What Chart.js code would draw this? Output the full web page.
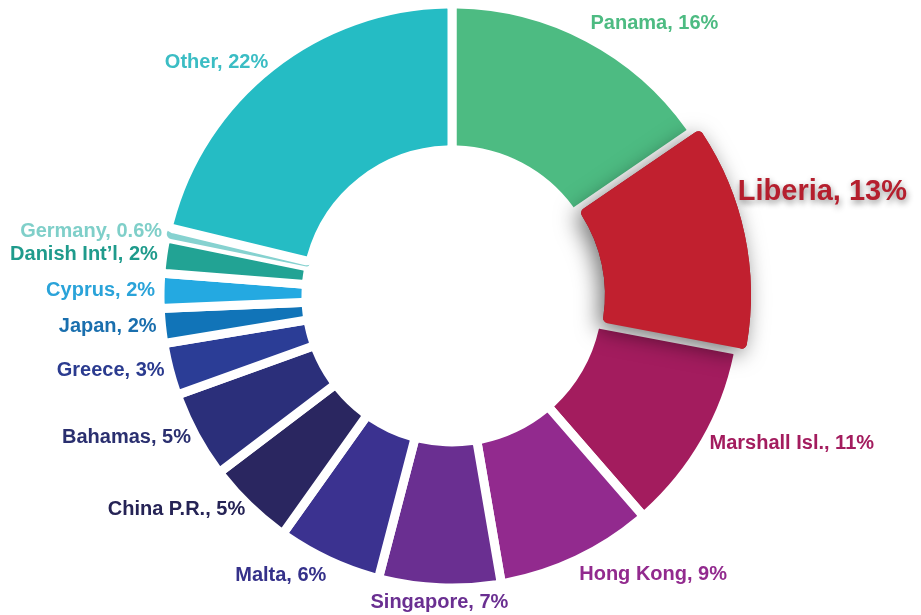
<!DOCTYPE html>
<html>
<head>
<meta charset="utf-8">
<script src="https://cdn.jsdelivr.net/npm/chart.js@4"></script>
<style>
  html, body { margin: 0; padding: 0; background: #ffffff; }
  #wrap { width: 921px; height: 615px; position: relative; }
</style>
</head>
<body>
<div id="wrap"><canvas id="chart-flags"></canvas></div>
<script>
// Data bendera kapal (label dan persentase)
const flags = ['Panama', 'Liberia', 'Marshall Isl.', 'Hong Kong', 'Singapore', 'Malta',
    'China P.R.', 'Bahamas', 'Greece', 'Japan', 'Cyprus', "Danish Int\u2019l", 'Germany', 'Other'];
const shares = [16, 13, 11, 9, 7, 6, 5, 5, 3, 2, 2, 2, 0.6, 22];
const sliceColors = ['#4dbb82', '#c1202f', '#a31c5e', '#922a8e', '#6a2f91', '#3b3290',
    '#2a2660', '#2b2f7a', '#2b3d96', '#1174b8', '#24a9e1', '#22a394', '#86d2d0', '#25bcc4'];
const labelColors = ['#4dbb82', '#b51f2e', '#a31c5e', '#922a8e', '#6a2f91', '#35318a',
    '#252355', '#2a2f6f', '#2b3b8f', '#1a6fae', '#2aa3d9', '#1f9b8c', '#7fcfc9', '#3bbdc4'];
const highlight = 1; // Liberia
const thin = 12;     // Germany

// Plugin: bayangan untuk potongan yang ditonjolkan
const shadowPlugin = {
    id: 'shadowPlugin',
    afterDatasetsDraw(chart) {
        const arc = chart.getDatasetMeta(0).data[highlight];
        const ctx = chart.ctx;
        ctx.save();
        ctx.shadowColor = 'rgba(0,0,0,0.55)';
        ctx.shadowBlur = 22;
        ctx.shadowOffsetX = -5;
        ctx.shadowOffsetY = 5;
        arc.draw(ctx);
        ctx.restore();
    }
};

// Plugin: label di luar potongan
const outLabels = {
    id: 'outLabels',
    afterDraw(chart) {
        const ctx = chart.ctx;
        const meta = chart.getDatasetMeta(0);
        meta.data.forEach((arc, i) => {
            const p = arc.getProps(['x', 'y', 'startAngle', 'endAngle', 'outerRadius'], true);
            const big = i === highlight;
            const frac = big ? 0.32 : 0.5;
            const a = p.startAngle + (p.endAngle - p.startAngle) * frac;
            const r = p.outerRadius + (big ? 12 : 5);
            const x = p.x + Math.cos(a) * r;
            const y = p.y + Math.sin(a) * r;
            const c = Math.cos(a);
            ctx.save();
            ctx.font = 'bold ' + (big ? 29 : 20) + 'px "Liberation Sans", Arial, sans-serif';
            ctx.fillStyle = labelColors[i];
            ctx.textAlign = c > 0.15 ? 'left' : (c < -0.15 ? 'right' : 'center');
            ctx.textBaseline = Math.sin(a) > 0.85 ? 'top' : (Math.sin(a) < -0.85 ? 'bottom' : 'middle');
            if (big) {
                ctx.shadowColor = 'rgba(0,0,0,0.45)';
                ctx.shadowBlur = 6;
                ctx.shadowOffsetX = 1;
                ctx.shadowOffsetY = 3;
            }
            ctx.fillText(flags[i] + ', ' + shares[i] + '%', x, y);
            ctx.restore();
        });
    }
};

function initializeChart() {
    new Chart(document.getElementById('chart-flags'), {
        type: 'doughnut',
        data: {
            labels: flags,
            datasets: [{
                data: shares,
                backgroundColor: sliceColors,
                borderColor: '#ffffff',
                borderWidth: flags.map((f, i) => (i === highlight || i === thin) ? 0 : 9),
                borderRadius: 5,
                offset: flags.map((f, i) => i === highlight ? 22 : 0)
            }]
        },
        options: {
            responsive: true,
            maintainAspectRatio: false,
            animation: false,
            radius: 292,
            cutout: '50%',
            layout: { padding: { left: 0, right: 17, top: 0, bottom: 23 } },
            plugins: {
                legend: { display: false },
                tooltip: { enabled: false }
            }
        },
        plugins: [shadowPlugin, outLabels]
    });
}

window.addEventListener('load', initializeChart);
</script>
</body>
</html>
